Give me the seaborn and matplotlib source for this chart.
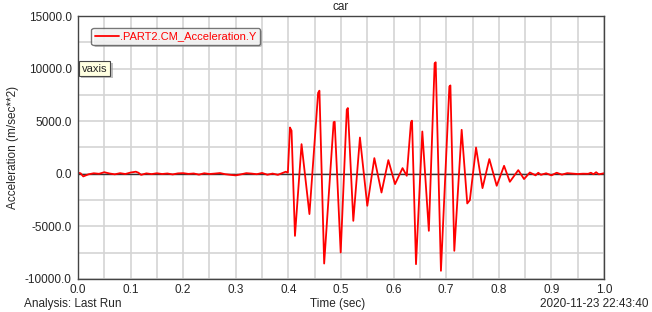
import pandas as pd
import matplotlib.pyplot as plt
import seaborn as sns
from matplotlib.ticker import MultipleLocator
import matplotlib.patheffects as pe

# --- data (time in sec, acceleration in m/sec**2) ---
t_quiet = [0.0, 0.005, 0.01, 0.02, 0.03, 0.04, 0.05, 0.06, 0.07, 0.08, 0.09,
           0.10, 0.11, 0.115, 0.12, 0.13, 0.14, 0.15, 0.16, 0.17, 0.18, 0.19,
           0.20, 0.21, 0.22, 0.23, 0.24, 0.25, 0.26, 0.27, 0.28, 0.29, 0.30,
           0.31, 0.32, 0.33, 0.34, 0.35, 0.36, 0.37, 0.38, 0.39, 0.395, 0.399]
a_quiet = [100, 50, -250, -50, 50, 0, 150, 30, -50, 60, -20,
           120, 200, 100, -100, 40, -30, 50, -20, 30, -60, 40,
           60, -10, 30, -80, 50, -20, 20, 70, -40, -100, -150,
           -50, 60, 20, -40, 80, -90, 20, -100, 100, 200, 100]

t_burst = [0.403, 0.406, 0.4125, 0.425, 0.44, 0.4565, 0.459, 0.468, 0.486,
           0.488, 0.4994, 0.511, 0.513, 0.5234, 0.536, 0.55, 0.5634, 0.577,
           0.59, 0.6027, 0.617, 0.625, 0.633, 0.635, 0.6426, 0.6546, 0.667,
           0.678, 0.680, 0.690, 0.706, 0.708, 0.7154, 0.7294, 0.740, 0.745,
           0.7567, 0.769, 0.782, 0.796, 0.810, 0.821, 0.837, 0.848, 0.859]
a_burst = [4400, 4100, -5900, 2820, -3830, 7700, 7900, -8530, 4900,
           4950, -7480, 6100, 6250, -4470, 3450, -3040, 1490, -1780,
           1300, -980, 540, -190, 4900, 5050, -8590, 4020, -5420,
           10500, 10600, -9220, 8300, 8400, -7320, 4180, -2820, -2500,
           2500, -1360, 1400, -1140, 760, -760, 350, -500, 125]

t_tail = [0.87, 0.875, 0.88, 0.89, 0.90, 0.91, 0.92, 0.93, 0.94, 0.95, 0.96,
          0.97, 0.975, 0.98, 0.985, 0.99, 1.0]
a_tail = [-150, 100, -100, 50, -150, 100, -80, 60, 20, -20, 10,
          0, 100, -40, 150, -50, 50]

df = pd.DataFrame({"time": t_quiet + t_burst + t_tail,
                   "acc": a_quiet + a_burst + a_tail})

sns.set_style("white")
plt.rcParams["font.family"] = ["Liberation Sans", "DejaVu Sans"]
plt.rcParams["font.size"] = 8.5

fig = plt.figure(figsize=(6.52, 3.12), dpi=100)
ax = fig.add_axes([0.1196, 0.1058, 0.8068, 0.8429])

sns.lineplot(data=df, x="time", y="acc", color="#ff0000", linewidth=1.3,
             ax=ax, label=".PART2.CM_Acceleration.Y", sort=False)
ax.axhline(0, color="#333333", linewidth=1.0, zorder=1)

ax.set_xlim(0, 1.0)
ax.set_ylim(-10000, 15000)
ax.xaxis.set_major_locator(MultipleLocator(0.1))
ax.xaxis.set_minor_locator(MultipleLocator(0.05))
ax.yaxis.set_major_locator(MultipleLocator(5000))
ax.yaxis.set_minor_locator(MultipleLocator(2500))
ax.xaxis.set_major_formatter(lambda v, p: f"{v:.1f}")
ax.yaxis.set_major_formatter(lambda v, p: f"{v:.1f}")
ax.grid(which="both", color="#d4d4d4", linewidth=1.2, zorder=0)
ax.set_axisbelow(True)
ax.tick_params(which="both", direction="out", length=3, width=0.8,
               color="#333333", labelsize=8.5, pad=1.5)
ax.tick_params(axis="x", which="major", length=3, pad=0.5)
for s in ax.spines.values():
    s.set_color("#444444")
    s.set_linewidth(1.0)

ax.set_xlabel("")
ax.set_ylabel("Acceleration (m/sec**2)", fontsize=8.5, labelpad=4)

leg = ax.legend(loc="upper left", bbox_to_anchor=(0.015, 0.975),
                frameon=True, fancybox=True, shadow=False,
                handlelength=2.2, borderpad=0.3, fontsize=8,
                handletextpad=0.1)
leg.get_frame().set_edgecolor("#555555")
leg.get_frame().set_linewidth(1.0)
for txt in leg.get_texts():
    txt.set_color("#ff0000")
leg.get_frame().set_path_effects([pe.withSimplePatchShadow(offset=(1.5, -1.5),
                                                           shadow_rgbFace="#999999", alpha=0.6)])

ax.text(0.008, 0.80, "vaxis", transform=ax.transAxes, fontsize=8,
        va="center", ha="left",
        bbox=dict(boxstyle="square,pad=0.25", facecolor="#ffffe1",
                  edgecolor="#444444", linewidth=0.8,
                  path_effects=[pe.withSimplePatchShadow(offset=(1.5, -1.5),
                                                         shadow_rgbFace="#999999", alpha=0.6)]))

fig.text(0.522, 0.977, "car", ha="center", va="center", fontsize=8.5)
fig.text(0.037, 0.026, "Analysis: Last Run", ha="left", va="center", fontsize=8.5)
fig.text(0.518, 0.026, "Time (sec)", ha="center", va="center", fontsize=8.5)
fig.text(0.995, 0.026, "2020-11-23 22:43:40", ha="right", va="center", fontsize=8.5)

fig.savefig("out.png", dpi=100, facecolor="white")
